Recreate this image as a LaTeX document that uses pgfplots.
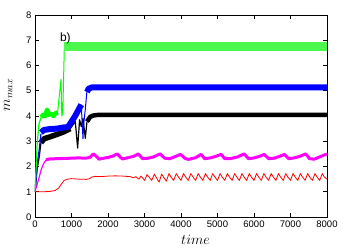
\documentclass[border=0pt]{standalone}
\usepackage{fontspec}
\setmainfont{Liberation Sans}
\usepackage{pgfplots}
\pgfplotsset{compat=1.18}
\definecolor{gpgreen}{RGB}{0,255,0}
\definecolor{gpgreenband}{RGB}{75,248,75}
\definecolor{gpblue}{RGB}{0,0,255}
\definecolor{gpmag}{RGB}{255,0,255}
\definecolor{gpred}{RGB}{255,0,0}
\begin{document}
\begin{tikzpicture}
\useasboundingbox (-35pt,-30pt) rectangle (313pt,217pt);
\begin{axis}[
  at={(0,0)}, anchor=south west,
  scale only axis, width=292pt, height=202pt,
  xmin=0, xmax=8000, ymin=0, ymax=8,
  xtick={0,1000,...,8000}, ytick={0,1,...,8},
  scaled ticks=false,
  /pgf/number format/1000 sep={},
  /pgf/number format/assume math mode=true,
  tick align=inside, major tick length=4pt,
  axis line style={line width=0.8pt},
  every tick/.style={line width=0.6pt, black},
  tick label style={font=\fontsize{9.5}{11}\selectfont},
  xlabel={$time$}, ylabel={$m_{max}$},
  xlabel style={font=\fontsize{15.5}{18}\selectfont, at={(axis description cs:0.55,-0.112)}, anchor=center},
  ylabel style={font=\fontsize{14}{16}\selectfont, at={(axis description cs:-0.092,0.604)}, anchor=center, rotate=0},
  clip=true,
]
% red
\addplot[gpred, line width=0.8pt, line join=round] coordinates {
(0,1.0)(200,1.0)(400,1.01)(550,1.05)(650,1.15)(720,1.3)(800,1.45)(900,1.5)(1000,1.52)(1200,1.5)(1400,1.49)(1500,1.52)(1550,1.58)(1650,1.61)(1800,1.6)(2000,1.62)(2200,1.63)(2400,1.62)(2600,1.6)(2700,1.55)(2760,1.6)(2800,1.55)(2850,1.5)(2900,1.62)(2950,1.55)
(3000,1.45)(3070,1.68)(3130,1.57)(3200,1.45)(3270,1.70)(3330,1.55)(3400,1.38)(3470,1.70)(3530,1.56)(3600,1.42)(3670,1.72)(3730,1.57)
(3800,1.45)(3870,1.72)(3930,1.58)(4000,1.45)(4070,1.72)(4130,1.58)(4200,1.45)(4270,1.72)(4330,1.58)(4400,1.45)(4470,1.72)(4530,1.58)
(4600,1.45)(4670,1.72)(4730,1.58)(4800,1.45)(4870,1.72)(4930,1.58)(5000,1.45)(5070,1.72)(5130,1.58)(5200,1.45)(5270,1.72)(5330,1.58)
(5400,1.45)(5470,1.72)(5530,1.58)(5600,1.45)(5670,1.72)(5730,1.58)(5800,1.45)(5870,1.72)(5930,1.58)(6000,1.45)(6070,1.72)(6130,1.58)
(6200,1.45)(6270,1.72)(6330,1.58)(6400,1.45)(6470,1.72)(6530,1.58)(6600,1.45)(6670,1.72)(6730,1.58)(6800,1.45)(6870,1.72)(6930,1.58)
(7000,1.45)(7070,1.72)(7130,1.58)(7200,1.45)(7270,1.72)(7330,1.58)(7400,1.45)(7470,1.72)(7530,1.58)(7600,1.45)(7670,1.72)(7730,1.58)
(7800,1.45)(7870,1.72)(7930,1.58)(8000,1.50)
};
% magenta
\addplot[gpmag, line width=1.2pt, line join=round] coordinates {
(0,1.0)(60,1.3)(120,1.6)(164,1.85)(230,2.1)(300,2.26)
};
\addplot[gpmag, line width=3pt, line join=round] coordinates {
(300,2.26)(400,2.3)(600,2.31)(800,2.32)(1000,2.33)(1200,2.34)(1400,2.33)(1500,2.36)(1600,2.5)(1700,2.38)(1750,2.29)(1850,2.32)(2000,2.36)(2150,2.42)(2250,2.5)(2350,2.35)(2400,2.3)(2550,2.35)(2700,2.4)(2830,2.5)(2950,2.31)(3100,2.33)(3250,2.38)(3430,2.5)(3550,2.33)(3700,2.31)(3850,2.4)(3990,2.48)(4100,2.33)(4200,2.28)(4400,2.35)(4550,2.48)(4650,2.31)(4800,2.34)(4950,2.4)(5100,2.48)(5200,2.31)(5350,2.31)(5550,2.38)(5730,2.5)(5850,2.31)(6000,2.34)(6150,2.4)(6280,2.48)(6400,2.31)(6550,2.33)(6700,2.4)(6830,2.48)(6950,2.31)(7100,2.34)(7250,2.4)(7420,2.5)(7520,2.31)(7650,2.29)(7800,2.38)(7970,2.48)(8000,2.45)
};
% black
\addplot[black, line width=1.2pt, line join=round] coordinates {
(0,1)(60,1.9)(118,2.4)(164,2.95)
};
\addplot[black, line width=5.5pt, line join=round] coordinates {
(164,2.95)(250,3.1)(400,3.17)(600,3.27)(800,3.38)(967,3.5)
};
\addplot[black, line width=1.2pt, line join=round] coordinates {
(967,3.5)(1104,3.78)(1168,2.73)(1222,3.85)(1268,3.58)(1315,3.91)(1378,3.12)(1424,3.78)
};
\addplot[black, line width=4.5pt, line join=round] coordinates {
(1424,3.78)(1515,3.97)(1600,4.02)(1700,4.04)(8000,4.04)
};
% blue
\addplot[gpblue, line width=1.2pt, line join=round] coordinates {
(0,1)(60,2.1)(118,2.7)(164,3.3)
};
\addplot[gpblue, line width=6pt, line join=round] coordinates {
(164,3.35)(250,3.45)(400,3.48)(600,3.5)(800,3.55)(900,3.56)(967,3.7)(1100,4.0)(1268,4.45)
};
\addplot[gpblue, line width=1pt, line join=round] coordinates {
(1268,4.45)(1300,3.5)(1315,3.1)(1330,3.6)(1380,4.3)(1424,5.0)
};
\addplot[gpblue, line width=6pt, line join=round] coordinates {
(1424,4.95)(1470,5.08)(1550,5.13)(8000,5.13)
};
% green
\addplot[gpgreen, line width=1.2pt, line join=round] coordinates {
(0,1)(60,2.9)(110,3.7)(170,3.95)
};
\addplot[gpgreen, line width=4.5pt, line join=round] coordinates {
(170,3.95)(230,4.05)(280,4.0)(330,4.25)(380,4.05)(430,4.1)(500,4.0)(560,4.1)(620,4.15)
};
\addplot[gpgreen, line width=1pt, line join=round] coordinates {
(620,4.15)(712,5.45)(735,4.0)(760,4.1)(805,6.8)(830,6.8)
};
\addplot[gpgreenband, line width=9pt] coordinates {
(805,6.76)(8000,6.76)
};
\node[font=\fontsize{12}{14}\selectfont, anchor=west, inner sep=0pt] at (axis cs:680,7.09) {b)};
\end{axis}
\end{tikzpicture}
\end{document}
